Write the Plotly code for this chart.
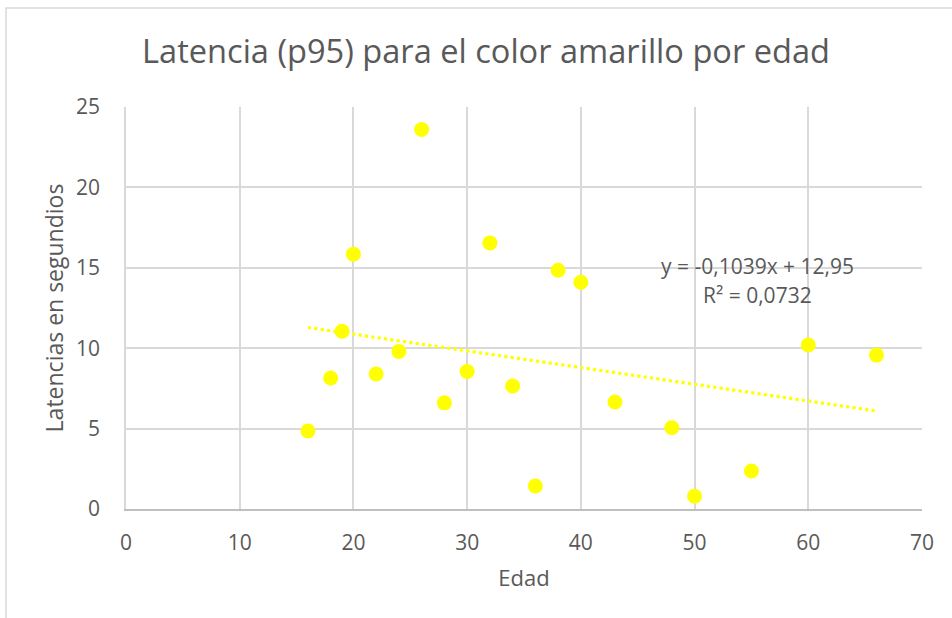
import plotly.graph_objects as go

edad = [16, 18, 19, 20, 22, 24, 26, 28, 30, 32, 34, 36, 38, 40, 43, 48, 50, 55, 60, 66]
latencia = [4.85, 8.15, 11.05, 15.85, 8.4, 9.8, 23.6, 6.6, 8.55, 16.55, 7.65, 1.43, 14.85, 14.1, 6.65, 5.05, 0.8, 2.36, 10.2, 9.57]

slope = -0.1039
intercept = 12.95
r2_text = "R² = 0,0732"
eq_text = "y = -0,1039x + 12,95"

x_ticks = [0, 10, 20, 30, 40, 50, 60, 70]
y_ticks = [0, 5, 10, 15, 20, 25]

trend_x = [min(edad), max(edad)]
trend_y = [slope * v + intercept for v in trend_x]

FONT = "Open Sans"
TXT = "#595959"

# plot area in pixels
L, R, T, B = 126, 922, 107, 509
PW, PH = R - L, B - T


def px(xp):
    return (xp - L) / PW


def py(yp):
    return (B - yp) / PH


fig = go.Figure()
fig.add_trace(go.Scatter(
    x=trend_x, y=trend_y, mode="lines",
    line=dict(color="#FFFF00", width=3.2, dash="dot"),
    hoverinfo="skip", showlegend=False))
fig.add_trace(go.Scatter(
    x=edad, y=latencia, mode="markers",
    marker=dict(color="#FFFF00", size=15, line=dict(width=0)),
    showlegend=False))

fig.update_layout(
    width=952, height=618,
    margin=dict(l=L, r=952 - R, t=T, b=618 - B),
    paper_bgcolor="white", plot_bgcolor="white",
    title=dict(text="Latencia (p95) para el color amarillo por edad",
               x=486 / 952, xanchor="center", y=1 - 52 / 618, yanchor="middle",
               font=dict(family=FONT, size=32.6, color=TXT)),
    xaxis=dict(range=[0, 70], tickvals=x_ticks, showgrid=True, gridcolor="#D9D9D9",
               gridwidth=1.5, zeroline=False, showline=True, linecolor="#BFBFBF",
               linewidth=1.5, ticks="", ticklabelstandoff=14,
               tickfont=dict(family=FONT, size=21, color=TXT),
               title=dict(text="Edad", font=dict(family=FONT, size=22, color=TXT), standoff=16)),
    yaxis=dict(range=[0, 25], tickvals=y_ticks, showgrid=True, gridcolor="#D9D9D9",
               gridwidth=1.5, zeroline=False, showline=True, linecolor="#D9D9D9",
               linewidth=1.5, ticks="", ticklabelstandoff=20,
               tickfont=dict(family=FONT, size=21, color=TXT),
               title=dict(text="Latencias en segundios", font=dict(family=FONT, size=23, color=TXT), standoff=6)),
    annotations=[
        dict(text=eq_text, x=px(757), y=py(266), xref="paper", yref="paper", showarrow=False,
             xanchor="center", yanchor="middle",
             font=dict(family=FONT, size=21, color=TXT)),
        dict(text=r2_text, x=px(757), y=py(295), xref="paper", yref="paper", showarrow=False,
             xanchor="center", yanchor="middle",
             font=dict(family=FONT, size=21, color=TXT)),
    ],
    shapes=[dict(type="rect", xref="paper", yref="paper",
                 x0=px(6), x1=px(970), y0=py(640), y1=py(8),
                 line=dict(color="#D9D9D9", width=1.5), fillcolor="rgba(0,0,0,0)", layer="below")],
)

fig.write_html("out.html", config={"displayModeBar": False},
               post_script="document.body.style.margin='0';document.body.style.overflow='hidden';")
